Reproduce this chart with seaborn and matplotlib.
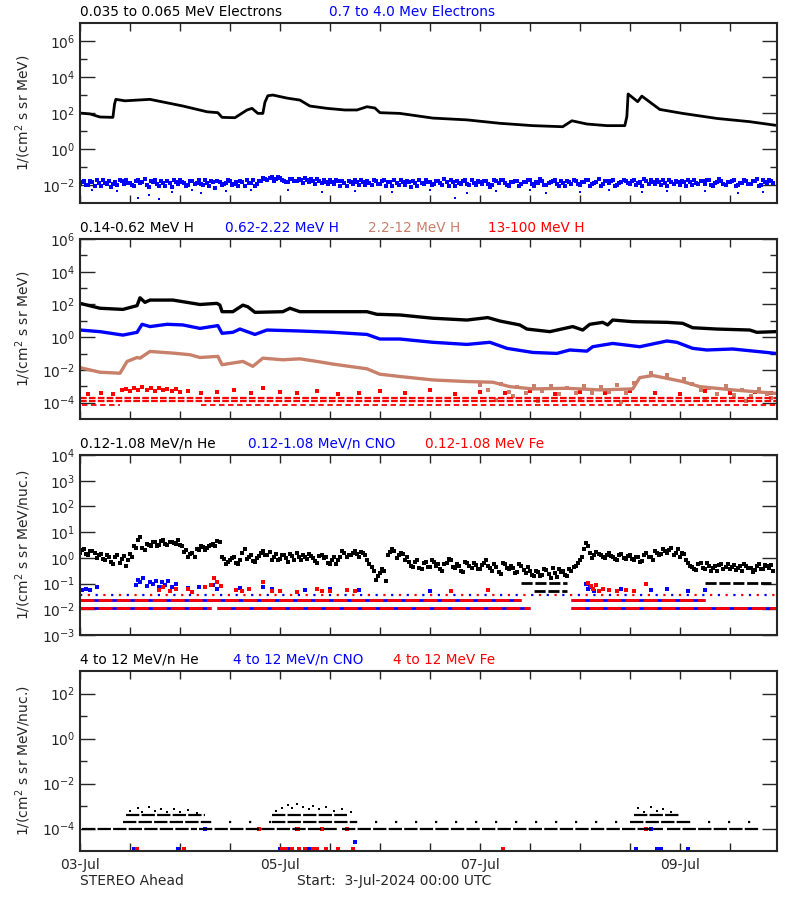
import numpy as np
import matplotlib
matplotlib.use("Agg")
import matplotlib.pyplot as plt
from matplotlib.ticker import NullFormatter
import seaborn as sns

# time axis in hours from 3-Jul-2024 00:00 UTC
hours = np.arange(0.5, 167, 1.0)
hours2 = np.arange(0.0, 167, 1.0)

# ---- panel 1: electrons (log10 flux) ----
e_low_t = [0, 2.4, 4.8, 7.9, 8.3, 8.6, 10.8, 16.8, 24.7, 30.5, 33.1, 34.1, 37.2, 40.1, 41.3, 42.7,
           43.9, 44.4, 45.1, 46.3, 49.7, 52.8, 55.2, 59.3, 63.6, 66.5, 68.9, 70.8, 72.0, 76.8, 84.7, 92.9,
           100.8, 108.7, 115.9, 118.1, 121.7, 126.5, 130.8, 131.3, 131.6, 133.9, 134.9, 139.2, 144.7, 152.9, 160.8, 167.0]
e_low_log = [2.0, 1.95, 1.78, 1.76, 2.5, 2.76, 2.68, 2.76, 2.39, 2.07, 2.02, 1.76, 1.74, 2.17, 2.26, 1.98,
             1.98, 2.6, 2.96, 3.0, 2.83, 2.72, 2.39, 2.26, 2.17, 2.17, 2.35, 2.28, 2.02, 1.98, 1.72, 1.62,
             1.43, 1.30, 1.24, 1.57, 1.39, 1.30, 1.30, 1.8, 3.06, 2.63, 2.94, 2.2, 1.98, 1.70, 1.52, 1.32]

e_high_log = [-1.85, -1.98, -1.75, -2.05, -1.90, -1.72, -1.95, -2.10, -1.82, -1.70, -1.93, -1.86,
              -2.02, -1.78, -1.88, -1.69, -2.12, -1.84, -1.95, -1.76, -2.04, -1.90, -1.73, -1.97,
              -1.83, -2.08, -1.79, -1.92, -1.70, -2.00, -1.87, -1.75, -2.15, -1.81, -1.94, -1.72,
              -1.99, -1.85, -1.77, -2.06, -1.89, -1.71, -1.96, -1.80, -1.68, -1.62, -1.75, -1.58,
              -1.70, -1.82, -1.64, -1.77, -1.69, -1.88, -1.74, -1.66, -1.92, -1.80, -1.73, -1.97,
              -1.84, -1.71, -2.03, -1.86, -1.76, -1.95, -1.82, -1.70, -2.01, -1.88, -1.74, -1.93,
              -1.79, -2.06, -1.85, -1.72, -1.98, -1.83, -1.76, -2.09, -1.87, -1.71, -1.94, -1.81,
              -2.00, -1.77, -1.90, -1.69, -2.07, -1.84, -1.78, -1.96, -1.73, -2.02, -1.86, -1.75,
              -1.92, -1.80, -2.11, -1.74, -1.89, -1.70, -1.98, -1.83, -1.77, -2.04, -1.85, -1.72,
              -1.95, -1.81, -1.68, -2.00, -1.87, -1.76, -1.93, -1.79, -2.08, -1.84, -1.71, -1.97,
              -1.82, -1.74, -2.03, -1.88, -1.69, -1.94, -1.80, -1.76, -2.05, -1.86, -1.72, -1.91,
              -1.78, -1.99, -1.84, -1.67, -1.96, -1.81, -1.74, -2.02, -1.88, -1.70, -1.93, -1.83,
              -1.76, -2.06, -1.85, -1.71, -1.97, -1.80, -1.73, -2.00, -1.87, -1.69, -1.95, -1.82,
              -1.75, -2.03, -1.86, -1.70, -1.92, -1.79, -1.68, -1.98, -1.84, -1.73, -1.90]
e_high2_log = [-1.92, -1.78, -2.00, -1.83, -1.70, -2.08, -1.87, -1.76, -1.95, -2.02, -1.80, -1.74,
               -1.90, -2.06, -1.72, -1.85, -1.98, -1.79, -1.71, -2.03, -1.86, -1.77, -2.09, -1.83,
               -1.74, -1.91, -2.01, -1.78, -1.86, -1.97, -1.73, -2.04, -1.84, -1.79, -2.00, -1.88,
               -1.75, -1.93, -2.03, -1.81, -1.74, -1.90, -2.05, -1.77, -1.63, -1.72, -1.55, -1.68,
               -1.60, -1.75, -1.85, -1.66, -1.79, -1.71, -1.60, -1.84, -1.76, -1.68, -1.90, -1.81,
               -1.72, -1.96, -1.80, -1.75, -2.05, -1.83, -1.73, -1.99, -1.85, -1.78, -2.02, -1.80,
               -1.93, -1.74, -1.81, -2.04, -1.86, -1.71, -1.99, -1.82, -1.75, -2.03, -1.88, -1.70,
               -1.84, -1.97, -1.75, -2.00, -1.81, -1.73, -2.06, -1.87, -1.79, -1.92, -1.74, -2.01,
               -1.83, -1.76, -1.95, -2.02, -1.80, -1.72, -1.89, -2.07, -1.84, -1.78, -1.96, -1.81,
               -1.73, -2.03, -1.86, -1.77, -1.99, -1.82, -1.70, -2.05, -1.88, -1.75, -1.94, -1.80,
               -2.01, -1.85, -1.72, -1.96, -1.83, -2.07, -1.78, -1.90, -1.73, -2.00, -1.84, -1.77,
               -1.95, -1.72, -1.88, -2.03, -1.79, -1.70, -1.97, -1.85, -1.74, -2.04, -1.81, -1.76,
               -1.98, -1.83, -1.70, -2.02, -1.86, -1.77, -1.94, -1.72, -2.05, -1.81, -1.75, -1.99,
               -1.84, -1.72, -2.00, -1.87, -1.76, -1.95, -1.80, -2.06, -1.71, -1.89, -1.78]
e_high_out_t = [3, 9, 14, 16.5, 19, 22, 27, 29, 35, 41, 50, 58, 66, 75, 84, 90, 93, 100, 108, 112,
                120, 127, 135, 141, 150, 158, 164]
e_high_out_log = [-2.30, -2.35, -2.72, -2.55, -2.78, -2.40, -2.30, -2.45, -2.35, -2.30,
                  -2.28, -2.40, -2.33, -2.38, -2.30, -2.72, -2.45, -2.35, -2.30, -2.42,
                  -2.36, -2.30, -2.40, -2.33, -2.31, -2.44, -2.36]

# ---- panel 2: protons ----
h1_t = [0, 4.8, 10.3, 13.7, 14.4, 15.6, 16.8, 22.3, 25.7, 28.8, 32.9, 33.6, 34.1, 36.7, 39.1, 40.3, 42.0,
        48.7, 50.4, 52.8, 60.7, 68.9, 71.3, 76.8, 84.7, 92.9, 97.9, 100.8, 105.6, 107.3, 112.8, 118.3,
        120.7, 122.4, 125.5, 126.7, 127.9, 132.7, 140.9, 144.7, 147.1, 152.9, 160.8, 162.5, 167.0]
h1_log = [2.07, 1.77, 1.70, 1.93, 2.41, 2.13, 2.27, 2.27, 2.13, 2.0, 2.07, 1.96, 1.56, 1.56, 1.96, 1.86, 1.52,
          1.56, 1.77, 1.56, 1.56, 1.56, 1.40, 1.36, 1.16, 1.05, 1.20, 0.99, 0.75, 0.50, 0.34, 0.65,
          0.44, 0.79, 0.91, 0.75, 1.05, 0.95, 0.91, 0.85, 0.58, 0.50, 0.44, 0.30, 0.34]
h2_t = [0, 4.8, 10.3, 13.7, 14.9, 16.8, 20.9, 24.7, 28.8, 33.1, 34.1, 36.7, 38.4, 42.0, 44.9, 52.8, 60.7,
        68.9, 72.0, 76.8, 84.7, 92.9, 98.4, 102.5, 108.7, 114.5, 117.6, 121.7, 123.1, 127.9, 134.4,
        140.9, 143.3, 147.1, 150.5, 156.7, 164.9, 167.0]
h2_log = [0.44, 0.34, 0.13, 0.30, 0.79, 0.65, 0.79, 0.75, 0.54, 0.71, 0.24, 0.30, 0.50, 0.17, 0.44, 0.38, 0.30,
          0.17, -0.11, -0.11, -0.31, -0.44, -0.31, -0.68, -0.93, -0.99, -0.78, -0.85, -0.58, -0.38, -0.58,
          -0.23, -0.31, -0.68, -0.78, -0.72, -0.93, -0.99]
h3_t = [0, 4.8, 9.6, 11.3, 13.7, 14.4, 16.8, 22.3, 26.4, 28.8, 33.1, 34.1, 39.1, 41.5, 43.9, 48.7, 52.8,
        56.9, 60.7, 68.9, 72.0, 76.8, 84.7, 92.9, 99.1, 103.2, 108.7, 116.9, 124.8, 132.7, 134.4, 137.5,
        140.9, 144.7, 148.8, 156.7, 167.0]
h3_log = [-1.86, -2.14, -2.20, -1.48, -1.24, -1.28, -0.87, -0.97, -1.07, -1.24, -1.17, -1.68, -1.48, -1.78,
          -1.28, -1.38, -1.32, -1.48, -1.64, -1.93, -2.26, -2.40, -2.61, -2.71, -2.75, -3.02, -3.16, -3.12,
          -3.22, -3.16, -2.47, -2.34, -2.51, -2.71, -3.02, -3.22, -3.43]
h3_pts_t = [96, 98, 101, 103, 105, 107, 109, 111, 113, 115, 117, 119, 121, 123, 125, 127, 129, 131, 133, 137,
            141, 145, 147, 149, 151, 153, 155, 157, 159, 161, 163, 165, 100, 110, 120, 130, 150, 160, 166, 104]
h3_pts_log = [-2.95, -3.25, -2.85, -3.35, -3.05, -3.40, -3.00, -3.30, -2.98, -3.45,
              -3.10, -3.38, -3.00, -3.42, -3.05, -3.35, -2.95, -3.40, -2.80, -2.20,
              -2.30, -2.55, -2.85, -3.25, -3.10, -3.45, -3.00, -3.55, -3.20, -3.60,
              -3.15, -3.50, -3.85, -3.90, -3.80, -3.95, -3.85, -3.90, -3.70, -3.60]
h4_pts_t = [2, 5, 8, 10, 11, 12, 13, 14, 15, 16, 17, 18, 19, 20, 21, 22, 23, 24, 26, 29,
            33, 37, 41, 44, 48, 52, 57, 62, 67, 72, 78, 84, 90, 96, 102, 108, 114, 120, 126, 132,
            138, 144, 150, 156, 162, 166]
h4_pts_log = [-3.45, -3.40, -3.45, -3.25, -3.15, -3.30, -3.10, -3.20, -3.05, -3.25,
              -3.12, -3.28, -3.08, -3.22, -3.15, -3.30, -3.18, -3.35, -3.30, -3.40,
              -3.35, -3.25, -3.40, -3.10, -3.35, -3.42, -3.30, -3.45, -3.38, -3.30,
              -3.42, -3.20, -3.45, -3.35, -3.40, -3.30, -3.45, -3.35, -3.42, -3.28,
              -3.40, -3.45, -3.30, -3.42, -3.35, -3.40]
# count-rate floor levels of 13-100 MeV H: (log10 level, start h, end h)
h4_floor = [(-3.70, 0, 167), (-3.90, 0, 167)]
h4_floor_low = [(-4.15, 0.5, 9.5), (-4.15, 29, 167)]

# ---- panel 3: low energy ions ----
he_lo_log = [0.30, 0.15, 0.28, 0.20, 0.10, -0.05, 0.12, -0.15, 0.02, -0.20, 0.08, -0.10,
             0.05, 0.37, 0.80, 0.30, 0.52, 0.60, 0.48, 0.65, 0.55, 0.62, 0.58, 0.68,
             0.45, 0.32, 0.15, 0.05, 0.30, 0.42, 0.38, 0.52, 0.48, 0.60, -0.05, -0.15,
             0.00, -0.20, -0.08, 0.35, 0.05, -0.12, 0.00, 0.20, 0.10, 0.22, 0.02, -0.10,
             0.10, 0.00, 0.15, -0.08, 0.05, 0.12, -0.05, 0.08, -0.12, 0.06, 0.00, -0.18,
             -0.10, -0.22, 0.05, 0.18, 0.12, 0.20, 0.15, 0.22, 0.10, -0.25, -0.50, -0.70,
             -0.45, -0.90, 0.22, 0.28, 0.10, 0.15, 0.05, -0.30, -0.15, -0.40, -0.20, -0.35,
             -0.10, -0.30, -0.45, -0.22, -0.05, -0.35, -0.25, -0.50, -0.15, -0.30, -0.20, -0.42,
             -0.28, -0.10, -0.38, -0.25, -0.55, -0.18, -0.40, -0.30, -0.60, -0.22, -0.48, -0.35,
             -0.65, -0.50, -0.70, -0.45, -0.62, -0.40, -0.75, -0.55, -0.68, -0.42, -0.35, -0.20,
             0.05, 0.57, 0.20, 0.10, 0.15, 0.02, 0.12, 0.08, -0.05, 0.10, 0.00, 0.06,
             -0.05, 0.02, -0.15, 0.10, 0.05, -0.10, 0.20, 0.15, 0.25, 0.30, 0.12, 0.35,
             0.20, -0.10, -0.30, -0.45, -0.25, -0.38, -0.20, -0.50, -0.32, -0.28, -0.42, -0.22,
             -0.35, -0.48, -0.30, -0.25, -0.40, -0.55, -0.33, -0.45, -0.28, -0.38, -0.50]
he_lo2_log = [0.20, 0.35, 0.10, 0.25, 0.00, 0.15, -0.10, 0.05, -0.25, 0.10, -0.05, -0.30,
              0.15, 0.45, 0.70, 0.40, 0.55, 0.45, 0.62, 0.52, 0.68, 0.50, 0.63, 0.55,
              0.50, 0.22, 0.05, 0.20, 0.35, 0.48, 0.30, 0.45, 0.55, 0.65, 0.05, -0.22,
              -0.10, 0.05, -0.25, 0.20, -0.05, 0.10, -0.15, 0.08, 0.25, 0.12, -0.08, 0.15,
              -0.05, 0.12, -0.15, 0.08, 0.18, -0.10, 0.02, 0.15, -0.02, -0.20, 0.10, 0.05,
              -0.25, 0.05, -0.08, 0.25, 0.05, 0.12, 0.28, 0.05, 0.18, -0.10, -0.35, -0.85,
              -0.60, -0.50, 0.10, 0.35, 0.00, 0.20, -0.10, -0.15, -0.35, -0.10, -0.45, -0.15,
              -0.35, -0.15, -0.25, -0.50, -0.20, -0.10, -0.40, -0.30, -0.55, -0.18, -0.40, -0.28,
              -0.45, -0.20, -0.30, -0.50, -0.35, -0.62, -0.25, -0.45, -0.38, -0.55, -0.30, -0.58,
              -0.50, -0.72, -0.55, -0.66, -0.48, -0.80, -0.60, -0.45, -0.52, -0.70, -0.50, -0.30,
              -0.10, 0.35, 0.45, 0.00, 0.22, 0.12, -0.02, 0.18, 0.05, -0.08, 0.15, -0.05,
              0.10, -0.08, 0.05, -0.12, 0.18, 0.02, 0.28, 0.10, 0.35, 0.20, 0.40, 0.18,
              0.05, 0.15, -0.20, -0.35, -0.48, -0.20, -0.42, -0.30, -0.38, -0.50, -0.25, -0.35,
              -0.45, -0.28, -0.40, -0.52, -0.30, -0.38, -0.48, -0.25, -0.42, -0.32, -0.28]
he_lo_floor = [(-0.97, 106, 117), (-0.97, 150, 166), (-1.28, 109, 117)]
cno_lo_t = [0.5, 1.5, 2.5, 4, 13.5, 14, 14.5, 15.2, 16, 16.8, 17.5, 18.2, 19, 19.8, 20.5, 21.2, 22, 23, 26, 28.5,
            32, 32.8, 38.5, 44, 46, 54, 60, 67, 84, 121.5, 122, 122.5, 123.5, 130, 137, 141, 146, 150]
cno_lo_log = [-1.26, -1.22, -1.26, -1.13, -1.05, -0.85, -0.95, -0.80, -1.10, -0.92,
              -1.02, -0.88, -1.15, -0.95, -1.05, -0.90, -1.12, -1.00, -1.18, -1.15,
              -1.05, -1.20, -1.18, -1.15, -1.22, -1.25, -1.20, -1.25, -1.28, -1.00,
              -1.20, -1.12, -1.30, -1.22, -1.25, -1.22, -1.28, -1.25]
fe_lo_t = [19, 20, 21.5, 23, 26, 27, 30, 31.5, 32.2, 33, 33.8, 37.5, 39, 40.5, 44, 46, 48, 52, 57, 58,
           60, 64, 66, 122, 122.6, 123.2, 123.8, 124.5, 125.5, 127, 129, 131, 133, 136, 89, 98]
fe_lo_log = [-1.25, -1.15, -1.30, -1.22, -1.20, -1.32, -1.15, -1.05, -0.78, -0.95,
             -1.10, -1.25, -1.28, -1.22, -0.95, -1.30, -1.28, -1.32, -1.20, -1.28,
             -1.30, -1.25, -1.30, -0.98, -1.10, -1.20, -1.05, -1.30, -1.22, -1.25,
             -1.28, -1.25, -1.30, -1.00, -1.30, -1.25]
ion_lo_floor = [(-1.95, 0, 31.5), (-1.95, 33, 108), (-1.95, 118, 167),
                (-1.65, 0, 106), (-1.65, 118, 150)]
ion_lo_sparse = [(-1.46, 0, 167)]

# ---- panel 4: high energy ions ----
he_hi_floor = [(-4.0, 0.5, 28), (-4.0, 28.5, 62), (-4.0, 63, 140), (-4.0, 141, 163),
               (-3.69, 10.3, 31), (-3.69, 46, 66), (-3.69, 132, 146),
               (-3.40, 11, 30), (-3.40, 46, 64), (-3.40, 133, 144)]
he_hi_sparse = [(-3.69, 31, 46), (-3.69, 66, 130), (-3.69, 146, 165)]
he_hi_t = [12, 14, 15, 16.5, 18, 19.5, 21, 22.5, 24, 26, 28, 47, 48.5, 50, 51, 52, 53.5, 55, 56, 57.5,
           59, 61, 63, 65, 134, 135.5, 137, 138.5, 140, 142]
he_hi_log = [-3.20, -3.10, -3.25, -3.05, -3.22, -3.15, -3.28, -3.12, -3.25, -3.18,
             -3.30, -3.20, -3.08, -2.95, -3.10, -2.90, -3.05, -3.15, -2.98, -3.12,
             -3.05, -3.20, -3.15, -3.25, -3.10, -3.25, -3.05, -3.20, -3.12, -3.28]
cno_hi_t = [13, 23.5, 48, 50, 55, 66, 133.6, 138.5, 139.5, 146, 30, 52, 137]
cno_hi_log = [-4.9, -4.9, -4.9, -4.9, -4.9, -4.6, -4.9, -4.9, -4.9, -4.9, -4.0, -4.0, -4.0]
fe_hi_t = [13.8, 25, 48.5, 49.5, 51, 52.5, 54, 56, 57, 59, 62, 65.5, 101.6, 43, 52.3, 58, 64, 136]
fe_hi_log = [-4.9, -4.9, -4.9, -4.9, -4.9, -4.9, -4.9, -4.9, -4.9, -4.9, -4.9, -4.9, -4.9,
             -4.0, -4.0, -4.0, -4.0, -4.0]

BROWN = "#c8806a"

sns.set_style("ticks")
plt.rcParams["font.family"] = ["DejaVu Sans"]
plt.rcParams["mathtext.default"] = "regular"

fig = plt.figure(figsize=(8, 9), dpi=100)
boxes = [0.7744, 0.5344, 0.2944, 0.0544]
axes = [fig.add_axes([0.1, b, 0.871, 0.2]) for b in boxes]


def pts(ax, t, logv, color, s=4):
    sns.scatterplot(x=np.asarray(t, float), y=10 ** np.asarray(logv), ax=ax, color=color,
                    marker="s", s=s, linewidth=0, legend=False)


def line(ax, t, logv, color, lw=2.0):
    sns.lineplot(x=np.asarray(t, float), y=10 ** np.asarray(logv), ax=ax, color=color,
                 linewidth=lw, sort=False, estimator=None, legend=False)


def floors(ax, segs, color, dash, lw=2.0):
    for lv, t0, t1 in segs:
        ax.hlines(10 ** lv, t0, t1, colors=color, linewidth=lw, linestyles=[dash])


def style(ax, lo, hi, major, minor, ylabel, titles):
    ax.set_yscale("log")
    ax.set_ylim(10.0 ** lo, 10.0 ** hi)
    ax.set_xlim(0, 167.3)
    ax.set_yticks([10.0 ** m for m in major])
    ax.set_yticklabels([r"$10^{%d}$" % m for m in major], fontsize=10)
    ax.set_yticks([10.0 ** m for m in minor], minor=True)
    ax.yaxis.set_minor_formatter(NullFormatter())
    ax.set_xticks(np.arange(0, 168, 12))
    ax.set_xticklabels([])
    ax.tick_params(axis="y", which="major", direction="in", length=11, width=1, right=True)
    ax.tick_params(axis="y", which="minor", direction="in", length=5, width=1, right=True)
    ax.tick_params(axis="x", direction="in", length=6, width=1, top=True)
    for sp in ax.spines.values():
        sp.set_linewidth(1.5)
        sp.set_visible(True)
    ax.set_ylabel(ylabel, fontsize=10)
    ax.yaxis.set_label_coords(-0.067, 0.5)
    ax.set_xlabel("")
    for xf, txt, col in titles:
        ax.text(xf, 1.025, txt, transform=ax.transAxes, color=col, fontsize=9.8, ha="left", va="bottom")


# panel 1
ax = axes[0]
line(ax, e_low_t, e_low_log, "black", lw=2.0)
pts(ax, hours, e_high_log, "blue", s=6)
pts(ax, hours2, e_high2_log, "blue", s=6)
pts(ax, e_high_out_t, e_high_out_log, "blue", s=4)
style(ax, -3, 7, [-2, 0, 2, 4, 6], [-1, 1, 3, 5], "1/(cm$^2$ s sr MeV)",
      [(0, "0.035 to 0.065 MeV Electrons", "black"), (0.357, "0.7 to 4.0 Mev Electrons", "blue")])

# panel 2
ax = axes[1]
floors(ax, h4_floor, "red", (0, (3, 1)), lw=1.6)
floors(ax, h4_floor_low, "red", (0, (3, 2)), lw=1.3)
pts(ax, h4_pts_t, h4_pts_log, "red", s=5)
pts(ax, h3_pts_t, h3_pts_log, BROWN, s=5)
line(ax, h3_t, h3_log, BROWN, lw=2.4)
line(ax, h2_t, h2_log, "blue", lw=2.4)
line(ax, h1_t, h1_log, "black", lw=2.4)
style(ax, -5, 6, [-4, -2, 0, 2, 4, 6], [-3, -1, 1, 3, 5], "1/(cm$^2$ s sr MeV)",
      [(0, "0.14-0.62 MeV H", "black"), (0.208, "0.62-2.22 MeV H", "blue"),
       (0.413, "2.2-12 MeV H", BROWN), (0.585, "13-100 MeV H", "red")])

# panel 3
ax = axes[2]
floors(ax, ion_lo_floor, "blue", "solid", lw=2.0)
floors(ax, ion_lo_floor, "red", (0, (5, 1.5)), lw=2.0)
floors(ax, ion_lo_sparse, "blue", (0, (1, 6)), lw=1.6)
floors(ax, ion_lo_sparse, "red", (3.5, (1, 6)), lw=1.6)
floors(ax, he_lo_floor, "black", (0, (4, 1)), lw=2.0)
pts(ax, cno_lo_t, cno_lo_log, "blue", s=7)
pts(ax, fe_lo_t, fe_lo_log, "red", s=7)
pts(ax, hours, he_lo_log, "black", s=5)
pts(ax, hours2, he_lo2_log, "black", s=5)
style(ax, -3, 4, [-3, -2, -1, 0, 1, 2, 3, 4], [], "1/(cm$^2$ s sr MeV/nuc.)",
      [(0, "0.12-1.08 MeV/n He", "black"), (0.241, "0.12-1.08 MeV/n CNO", "blue"),
       (0.495, "0.12-1.08 MeV Fe", "red")])

# panel 4
ax = axes[3]
floors(ax, he_hi_floor, "black", (0, (6, 1)), lw=1.6)
floors(ax, he_hi_sparse, "black", (0, (1, 8)), lw=1.6)
pts(ax, he_hi_t, he_hi_log, "black", s=4)
pts(ax, cno_hi_t, cno_hi_log, "blue", s=5)
pts(ax, fe_hi_t, fe_hi_log, "red", s=5)
style(ax, -5, 3, [-4, -2, 0, 2], [-3, -1, 1], "1/(cm$^2$ s sr MeV/nuc.)",
      [(0, "4 to 12 MeV/n He", "black"), (0.2195, "4 to 12 MeV/n CNO", "blue"),
       (0.449, "4 to 12 MeV Fe", "red")])
day_labels = {0: "03-Jul", 48: "05-Jul", 96: "07-Jul", 144: "09-Jul"}
ax.set_xticklabels([day_labels.get(h, "") for h in range(0, 168, 12)], fontsize=10)
ax.tick_params(axis="x", pad=5)

fig.text(0.1, 0.021, "STEREO Ahead", fontsize=10, va="center")
fig.text(0.371, 0.021, "Start:  3-Jul-2024 00:00 UTC", fontsize=10, va="center")

fig.savefig("out.png", dpi=100)
